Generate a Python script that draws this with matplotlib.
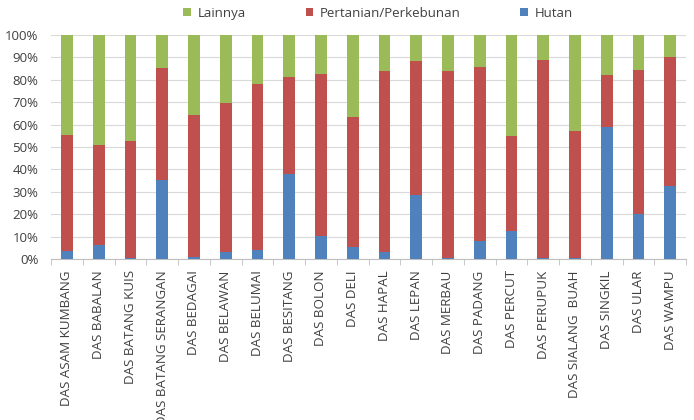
import matplotlib.pyplot as plt
import numpy as np

# cumulative readings from the picture, in percent
das = ["DAS ASAM KUMBANG", "DAS BABALAN", "DAS BATANG KUIS", "DAS BATANG SERANGAN",
       "DAS BEDAGAI", "DAS BELAWAN", "DAS BELUMAI", "DAS BESITANG", "DAS BOLON",
       "DAS DELI", "DAS HAPAL", "DAS LEPAN", "DAS MERBAU", "DAS PADANG",
       "DAS PERCUT", "DAS PERUPUK", "DAS SIALANG  BUAH", "DAS SINGKIL",
       "DAS ULAR", "DAS WAMPU"]
hutan = [3.5, 6.4, 0.3, 35.4, 0.8, 3.0, 4.0, 37.9, 10.1, 5.5,
         3.4, 28.7, 0.3, 8.3, 12.4, 0.3, 0.3, 58.9, 20.2, 32.4]
hutan_pertanian = [55.5, 51.0, 52.8, 85.3, 64.4, 69.6, 78.3, 81.1, 82.6, 63.3,
                   84.0, 88.5, 84.0, 85.6, 54.8, 89.0, 57.0, 82.3, 84.5, 90.3]

hutan = np.array(hutan)
pertanian = np.array(hutan_pertanian) - hutan
lainnya = 100 - np.array(hutan_pertanian)

GREEN = "#9BBB59"
RED = "#C0504D"
BLUE = "#4F81BD"

plt.rcParams["font.family"] = ["Open Sans", "DejaVu Sans"]

fig = plt.figure(figsize=(6.94, 4.2), dpi=100)
ax = fig.add_axes([0.0735, 0.383, 0.915, 0.534])

x = np.arange(len(das))
w = 0.37
ax.bar(x, hutan, w, color=BLUE, label="Hutan", zorder=3)
ax.bar(x, pertanian, w, bottom=hutan, color=RED, label="Pertanian/Perkebunan", zorder=3)
ax.bar(x, lainnya, w, bottom=hutan + pertanian, color=GREEN, label="Lainnya", zorder=3)

ax.set_xlim(-0.5, len(das) - 0.5)
ax.set_ylim(0, 100)
ax.set_yticks(np.arange(0, 101, 10))
ax.set_yticklabels([f"{v}%" for v in range(0, 101, 10)], fontsize=9.5, color="#404040")
ax.yaxis.grid(True, color="#D9D9D9", linewidth=0.8, zorder=0)
ax.tick_params(axis="y", length=0, pad=9)

ax.set_xticks(x)
ax.set_xticklabels(das, rotation=90, fontsize=9.6, color="#404040", va="top")
ax.set_xticks(np.arange(-0.5, len(das), 1), minor=True)
ax.tick_params(axis="x", which="major", length=0, pad=8)
ax.tick_params(axis="x", which="minor", length=4, color="#BFBFBF", direction="out")

for s in ["top", "right", "left"]:
    ax.spines[s].set_visible(False)
ax.spines["bottom"].set_color("#BFBFBF")

handles, labels = ax.get_legend_handles_labels()
fig.legend(handles[::-1], labels[::-1], loc="center", bbox_to_anchor=(0.545, 0.969),
           ncol=3, frameon=False, fontsize=9.5, handlelength=0.6, handleheight=0.6,
           columnspacing=4.5, handletextpad=0.5, labelcolor="#404040")

fig.savefig("out.png", dpi=100)
